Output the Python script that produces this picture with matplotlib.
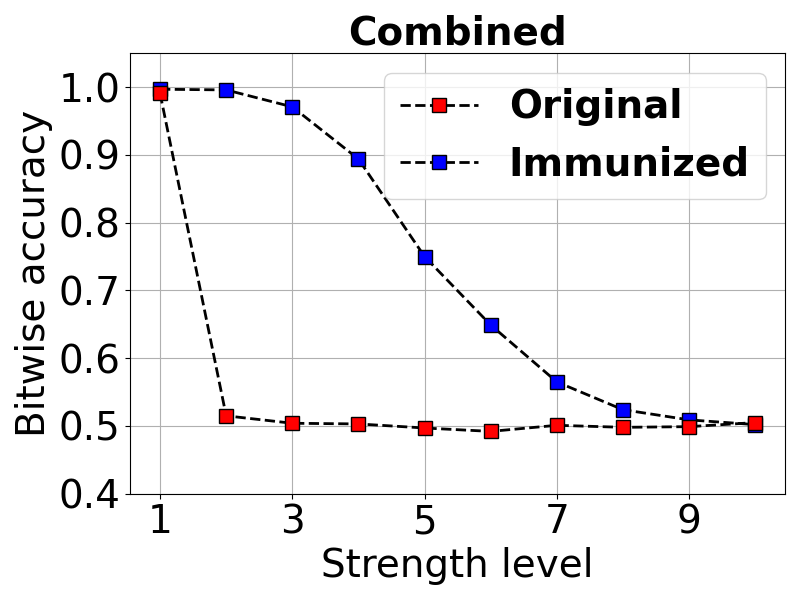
import matplotlib
matplotlib.use('Agg')
import matplotlib.pyplot as plt

levels = [1, 2, 3, 4, 5, 6, 7, 8, 9, 10]
original = [0.991, 0.515, 0.504, 0.503, 0.497, 0.492, 0.501, 0.498, 0.499, 0.505]
immunized = [0.997, 0.996, 0.971, 0.894, 0.750, 0.649, 0.565, 0.524, 0.509, 0.502]

plt.figure(figsize=(8, 6), dpi=100)
l2, = plt.plot(levels, immunized, 'k--', marker='s', mfc='blue', mec='black',
               ms=10, lw=2, label='Immunized')
l1, = plt.plot(levels, original, 'k--', marker='s', mfc='red', mec='black',
               ms=10, lw=2, label='Original')

plt.title('Combined', fontsize=28, fontweight='bold')
plt.xlabel('Strength level', fontsize=28)
plt.ylabel('Bitwise accuracy', fontsize=28)
plt.xticks([1, 3, 5, 7, 9], fontsize=28)
plt.yticks([0.4, 0.5, 0.6, 0.7, 0.8, 0.9, 1.0], fontsize=28)
plt.ylim(0.4, 1.05)
plt.grid(True)
plt.legend(handles=[l1, l2], loc='upper right', prop={'size': 28, 'weight': 'bold'})
plt.tight_layout()
plt.savefig('out.png')
